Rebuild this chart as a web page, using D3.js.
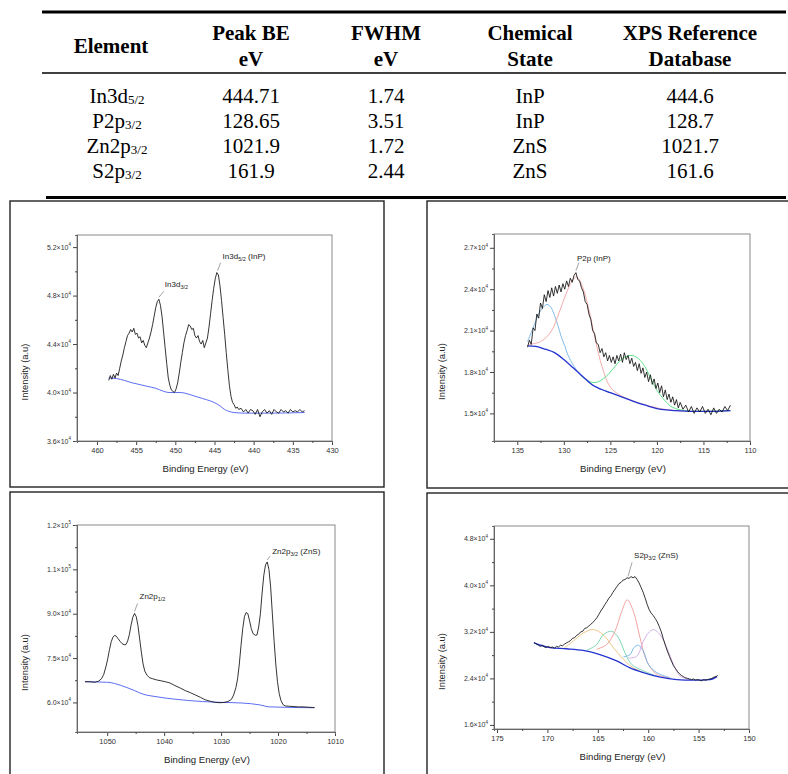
<!DOCTYPE html>
<html>
<head>
<meta charset="utf-8">
<script src="https://cdn.jsdelivr.net/npm/d3@7"></script>
<style>
body { margin: 0; background: #fff; }
svg { display: block; }
</style>
</head>
<body>
<div id="chart"></div>
<script>
// ---- table values ----
var headTop = ["Element", "Peak BE", "FWHM", "Chemical", "XPS Reference"];
var headBottom = ["", "eV", "eV", "State", "Database"];
var elementNames = ["In3d", "P2p", "Zn2p", "S2p"];
var elementSubs = ["5/2", "3/2", "3/2", "3/2"];
var peakBE = ["444.71", "128.65", "1021.9", "161.9"];
var fwhm = ["1.74", "3.51", "1.72", "2.44"];
var chemState = ["InP", "InP", "ZnS", "ZnS"];
var xpsRef = ["444.6", "128.7", "1021.7", "161.6"];

// ---- spectra, [binding energy eV, intensity in 1e4 counts] ----
var in3d = [[458.5,4.10],[458.3,4.14],[458.1,4.11],[457.9,4.15],[457.7,4.12],[457.5,4.16],[457.3,4.14],[457.1,4.20],
  [456.9,4.26],[456.7,4.31],[456.5,4.37],[456.3,4.42],[456.1,4.47],[455.9,4.49],[455.7,4.52],[455.5,4.50],[455.3,4.53],
  [455.1,4.48],[454.9,4.49],[454.7,4.45],[454.5,4.46],[454.3,4.41],[454.1,4.43],[453.9,4.39],[453.7,4.37],[453.5,4.41],
  [453.3,4.45],[453.1,4.50],[452.9,4.56],[452.7,4.63],[452.5,4.70],[452.3,4.75],[452.1,4.77],[451.9,4.72],[451.7,4.63],
  [451.5,4.50],[451.3,4.37],[451.1,4.24],[450.9,4.12],[450.7,4.06],[450.5,4.02],[450.3,4.01],[450.1,4.00],[449.9,4.03],
  [449.7,4.08],[449.5,4.16],[449.3,4.25],[449.1,4.33],[448.9,4.41],[448.7,4.47],[448.5,4.51],[448.3,4.56],[448.1,4.55],
  [447.9,4.52],[447.7,4.53],[447.5,4.47],[447.3,4.45],[447.1,4.47],[446.9,4.42],[446.7,4.40],[446.5,4.43],[446.3,4.37],
  [446.1,4.41],[445.9,4.45],[445.7,4.54],[445.5,4.65],[445.3,4.76],[445.1,4.86],[444.9,4.94],[444.7,4.99],[444.5,4.97],
  [444.3,4.88],[444.1,4.76],[443.9,4.62],[443.7,4.48],[443.5,4.33],[443.3,4.19],[443.1,4.06],[442.9,3.97],[442.7,3.92],
  [442.5,3.90],[442.3,3.87],[442.1,3.88],[441.9,3.86],[441.6,3.87],[441.3,3.84],[441.0,3.86],[440.7,3.83],[440.4,3.86],
  [440.1,3.85],[439.8,3.82],[439.5,3.86],[439.2,3.80],[438.9,3.84],[438.6,3.86],[438.3,3.83],[438.0,3.85],[437.7,3.82],
  [437.4,3.86],[437.1,3.84],[436.8,3.83],[436.5,3.86],[436.2,3.84],[435.9,3.85],[435.6,3.83],[435.3,3.86],[435.0,3.84],
  [434.7,3.85],[434.4,3.84],[434.1,3.86],[433.8,3.84],[433.5,3.85]];
var in3dBg = [[458.5,4.12],[457.5,4.115],[456.5,4.10],[455.5,4.08],[454.5,4.065],[453.5,4.05],[452.5,4.035],[451.5,4.01],
  [450.8,4.0],[450,4.0],[449.3,4.0],[448.5,3.99],[447.5,3.97],[446.5,3.95],[445.5,3.93],[444.8,3.91],[444.2,3.885],
  [443.7,3.86],[443.2,3.845],[442.5,3.835],[441,3.83],[438,3.83],[433.5,3.835]];

var p2p = [[133.9,1.98],[133.7,2.03],[133.5,2.00],[133.3,2.12],[133.1,2.10],[132.9,2.22],[132.7,2.19],[132.5,2.30],
  [132.3,2.26],[132.1,2.36],[131.9,2.31],[131.7,2.39],[131.5,2.34],[131.3,2.41],[131.1,2.35],[130.9,2.42],[130.7,2.37],
  [130.5,2.43],[130.3,2.38],[130.1,2.44],[129.9,2.40],[129.7,2.46],[129.5,2.42],[129.3,2.48],[129.1,2.45],[128.9,2.50],
  [128.7,2.52],[128.5,2.47],[128.3,2.46],[128.1,2.41],[127.9,2.38],[127.7,2.31],[127.5,2.29],[127.3,2.22],[127.1,2.18],
  [126.9,2.10],[126.7,2.08],[126.5,2.01],[126.3,2.00],[126.1,1.94],[125.9,1.97],[125.7,1.91],[125.5,1.94],[125.3,1.88],
  [125.1,1.92],[124.9,1.87],[124.7,1.91],[124.5,1.86],[124.3,1.92],[124.1,1.88],[123.9,1.93],[123.7,1.87],[123.5,1.94],
  [123.3,1.89],[123.1,1.92],[122.9,1.86],[122.7,1.90],[122.5,1.84],[122.3,1.87],[122.1,1.81],[121.9,1.86],[121.7,1.79],
  [121.5,1.83],[121.3,1.76],[121.1,1.80],[120.9,1.73],[120.7,1.78],[120.5,1.71],[120.3,1.75],[120.1,1.68],[119.9,1.72],
  [119.7,1.65],[119.5,1.70],[119.3,1.62],[119.1,1.67],[118.9,1.60],[118.7,1.64],[118.5,1.58],[118.3,1.62],[118.1,1.56],
  [117.9,1.60],[117.7,1.54],[117.5,1.58],[117.2,1.53],[116.9,1.56],[116.6,1.51],[116.3,1.55],[116.0,1.50],[115.7,1.54],
  [115.4,1.51],[115.1,1.55],[114.8,1.50],[114.5,1.53],[114.2,1.49],[113.9,1.54],[113.6,1.50],[113.3,1.53],[113.0,1.51],
  [112.7,1.55],[112.4,1.52],[112.1,1.56]];
var p2pBg = [[133.9,1.99],[133,1.985],[132,1.965],[131,1.94],[130,1.89],[129,1.83],[128,1.77],[127,1.71],[126,1.675],
  [125,1.65],[124,1.625],[123,1.60],[122,1.575],[121,1.555],[120,1.535],[119,1.525],[118,1.52],[116,1.515],[114,1.515],[112.1,1.52]];
var p2pFitA = [[133.9,2.02],[133.3,2.12],[132.7,2.22],[132.2,2.27],[131.8,2.29],[131.4,2.27],[131.0,2.21],[130.6,2.13],
  [130.3,2.06],[129.9,1.99],[129.6,1.93],[128.9,1.84],[128.2,1.78],[127.5,1.74],[126.8,1.70],[126.0,1.675],[125,1.65]];
var p2pFitB = [[133.75,2.0],[132.5,2.02],[131.4,2.09],[130.5,2.23],[129.8,2.36],[129.1,2.46],[128.64,2.49],[128.0,2.42],
  [127.3,2.25],[126.6,2.03],[125.9,1.84],[125.0,1.69],[123.9,1.63],[122.1,1.58],[120,1.54],[117.9,1.52],[114,1.515],[112.1,1.52]];
var p2pFitC = [[128.2,1.775],[127.6,1.745],[127.0,1.725],[126.5,1.725],[126.0,1.74],[125.5,1.765],[125.0,1.80],[124.5,1.84],
  [124.0,1.88],[123.5,1.905],[122.9,1.92],[122.4,1.915],[121.8,1.885],[121.3,1.84],[120.7,1.76],[120.1,1.68],[119.6,1.63],
  [119.1,1.59],[118.6,1.556],[118.0,1.535],[117.0,1.52],[115.5,1.515],[112.1,1.52]];

var zn2p = [[1053.9,6.70],[1053.0,6.70],[1052.2,6.68],[1051.5,6.72],[1051.0,6.80],[1050.6,6.95],[1050.2,7.22],[1049.9,7.48],
  [1049.6,7.78],[1049.3,8.05],[1049.0,8.20],[1048.7,8.27],[1048.4,8.24],[1048.1,8.16],[1047.7,8.06],[1047.4,7.99],
  [1047.0,7.95],[1046.7,7.96],[1046.4,8.08],[1046.1,8.30],[1045.8,8.62],[1045.5,8.88],[1045.2,9.01],[1044.9,8.90],
  [1044.6,8.60],[1044.3,8.15],[1044.0,7.70],[1043.7,7.30],[1043.4,7.06],[1043.0,6.92],[1042.6,6.84],[1042.0,6.80],
  [1041.3,6.76],[1040.5,6.73],[1039.8,6.70],[1039.0,6.66],[1038.1,6.57],[1037.2,6.49],[1036.3,6.40],[1035.4,6.33],
  [1034.5,6.25],[1033.6,6.17],[1032.8,6.09],[1031.9,6.04],[1031.0,6.00],[1030.2,5.99],[1029.5,6.00],[1028.8,6.03],
  [1028.2,6.10],[1027.8,6.25],[1027.4,6.50],[1027.1,6.80],[1026.8,7.30],[1026.5,7.93],[1026.2,8.50],[1025.9,8.90],
  [1025.6,9.04],[1025.3,9.00],[1025.0,8.76],[1024.7,8.50],[1024.4,8.33],[1024.0,8.27],[1023.7,8.28],[1023.4,8.55],
  [1023.1,9.00],[1022.8,9.70],[1022.5,10.30],[1022.2,10.65],[1021.9,10.75],[1021.6,10.50],[1021.3,9.90],[1021.0,9.00],
  [1020.7,8.10],[1020.4,7.30],[1020.1,6.70],[1019.8,6.30],[1019.5,6.07],[1019.1,5.92],[1018.7,5.88],[1018.0,5.87],
  [1017.2,5.86],[1016.4,5.85],[1015.6,5.85],[1014.8,5.84],[1014.0,5.83],[1013.6,5.83]];
var zn2pBg = [[1053.9,6.70],[1049.9,6.68],[1047.5,6.57],[1045.2,6.40],[1043.7,6.28],[1041.6,6.20],[1038.1,6.11],
  [1033.3,6.03],[1029.5,6.0],[1026.3,5.98],[1023.3,5.92],[1021.5,5.85],[1013.6,5.82]];

var s2p = [[171.3,3.02],[171.1,2.99],[170.9,2.97],[170.7,2.95],[170.5,2.97],[170.3,2.94],[170.1,2.93],[169.9,2.95],
  [169.7,2.93],[169.5,2.94],[169.3,2.92],[169.1,2.95],[168.9,2.94],[168.7,2.97],[168.5,2.96],[168.3,2.99],[168.1,3.01],
  [167.9,3.03],[167.7,3.05],[167.5,3.09],[167.3,3.10],[167.1,3.14],[166.9,3.16],[166.7,3.20],[166.5,3.21],[166.3,3.26],
  [166.1,3.27],[165.9,3.30],[165.7,3.33],[165.5,3.36],[165.3,3.40],[165.1,3.44],[164.9,3.50],[164.7,3.56],[164.5,3.61],
  [164.3,3.67],[164.1,3.72],[163.9,3.78],[163.7,3.82],[163.5,3.88],[163.3,3.93],[163.1,3.98],[162.9,4.03],[162.7,4.05],
  [162.5,4.09],[162.3,4.10],[162.1,4.13],[161.9,4.12],[161.7,4.15],[161.5,4.13],[161.3,4.15],[161.1,4.10],[160.9,4.04],
  [160.7,3.96],[160.5,3.88],[160.3,3.78],[160.1,3.67],[159.9,3.58],[159.7,3.52],[159.5,3.48],[159.3,3.43],[159.1,3.37],
  [158.9,3.29],[158.7,3.20],[158.5,3.08],[158.3,2.97],[158.1,2.87],[157.9,2.78],[157.7,2.70],[157.5,2.62],[157.3,2.57],
  [157.1,2.52],[156.9,2.48],[156.7,2.45],[156.5,2.43],[156.3,2.41],[156.1,2.40],[155.9,2.39],[155.7,2.38],[155.5,2.39],
  [155.3,2.37],[155.1,2.38],[154.9,2.37],[154.7,2.36],[154.5,2.38],[154.3,2.37],[154.1,2.38],[153.9,2.39],[153.7,2.40],
  [153.5,2.42],[153.3,2.43],[153.1,2.45]];
var s2pBg = [[171.35,3.01],[169.76,2.93],[168.1,2.91],[166.45,2.88],[164.79,2.81],[163.13,2.70],[161.8,2.58],[160.48,2.50],
  [158.8,2.42],[157.16,2.38],[155.5,2.37],[153.85,2.38],[153.18,2.43]];
var s2pFitA = [[168.43,2.91],[167.44,3.04],[166.45,3.18],[165.45,3.24],[164.46,3.15],[163.46,2.93],[162.47,2.73],[161.47,2.58],[160.48,2.50]];
var s2pFitB = [[166.11,2.88],[165.12,2.98],[164.46,3.15],[163.63,3.21],[162.96,3.10],[162.3,2.84],[161.64,2.64],[160.48,2.53],[159.15,2.44]];
var s2pFitC = [[165.12,2.90],[164.13,2.98],[163.3,3.21],[162.63,3.55],[162.07,3.75],[161.47,3.55],[160.81,3.10],[160.15,2.70],[159.15,2.47],[157.82,2.41]];
var s2pFitD = [[162.47,2.77],[161.8,2.81],[161.41,2.93],[160.97,2.97],[160.48,2.87],[159.98,2.64],[159.15,2.50],[157.82,2.41]];
var s2pFitE = [[161.97,2.75],[161.14,2.78],[160.48,3.04],[159.98,3.18],[159.48,3.24],[158.82,3.15],[158.16,2.93],[157.49,2.64],[156.83,2.44],[155.83,2.38]];

// ---- axis ticks ----
var in3dXTicks = [460, 455, 450, 445, 440, 435, 430];
var in3dYTicks = [3.6, 4.0, 4.4, 4.8, 5.2];
var in3dYLabels = ["3.6", "4.0", "4.4", "4.8", "5.2"];
var in3dYExp = ["4", "4", "4", "4", "4"];
var p2pXTicks = [135, 130, 125, 120, 115, 110];
var p2pYTicks = [1.5, 1.8, 2.1, 2.4, 2.7];
var p2pYLabels = ["1.5", "1.8", "2.1", "2.4", "2.7"];
var p2pYExp = ["4", "4", "4", "4", "4"];
var zn2pXTicks = [1050, 1040, 1030, 1020, 1010];
var zn2pYTicks = [6.0, 7.5, 9.0, 10.5, 12.0];
var zn2pYLabels = ["6.0", "7.5", "9.0", "1.1", "1.2"];
var zn2pYExp = ["4", "4", "4", "5", "5"];
var s2pXTicks = [175, 170, 165, 160, 155, 150];
var s2pYTicks = [1.6, 2.4, 3.2, 4.0, 4.8];
var s2pYLabels = ["1.6", "2.4", "3.2", "4.0", "4.8"];
var s2pYExp = ["4", "4", "4", "4", "4"];

var svg = d3.select("#chart").append("svg")
    .attr("width", 788)
    .attr("height", 774);
svg.append("rect").attr("width", 788).attr("height", 774).attr("fill", "#fff");

// ---- table ----
var colX = [117, 251, 386, 530, 690];
var tableL = 42, tableR = 786;
var serif = "'Liberation Serif', 'DejaVu Serif', serif";

svg.append("line").attr("x1", tableL).attr("x2", tableR).attr("y1", 12).attr("y2", 12)
    .attr("stroke", "#000").attr("stroke-width", 3);
svg.append("line").attr("x1", tableL).attr("x2", tableR).attr("y1", 73).attr("y2", 73)
    .attr("stroke", "#000").attr("stroke-width", 1.3);
svg.append("line").attr("x1", tableL + 4).attr("x2", tableR).attr("y1", 197.5).attr("y2", 197.5)
    .attr("stroke", "#000").attr("stroke-width", 3);

headTop.forEach(function(h, i) {
  svg.append("text")
      .attr("x", i == 0 ? colX[i] - 6 : colX[i]).attr("y", i == 0 ? 53 : 40)
      .attr("text-anchor", "middle")
      .attr("font-family", serif).attr("font-weight", "bold").attr("font-size", 21)
      .text(h);
  if (headBottom[i]) {
    svg.append("text")
        .attr("x", colX[i]).attr("y", 66)
        .attr("text-anchor", "middle")
        .attr("font-family", serif).attr("font-weight", "bold").attr("font-size", 21)
        .text(headBottom[i]);
  }
});

var rowY = [103, 128, 153, 178];
elementNames.forEach(function(el, r) {
  var t = svg.append("text")
      .attr("x", colX[0]).attr("y", rowY[r])
      .attr("text-anchor", "middle")
      .attr("font-family", serif).attr("font-size", 21);
  t.append("tspan").text(el);
  t.append("tspan").attr("font-size", 13).attr("dy", 1).text(elementSubs[r]);
  [peakBE, fwhm, chemState, xpsRef].forEach(function(col, c) {
    svg.append("text")
        .attr("x", colX[c + 1]).attr("y", rowY[r])
        .attr("text-anchor", "middle")
        .attr("font-family", serif).attr("font-size", 21)
        .text(col[r]);
  });
});

// ---- spectra panels ----
var sans = "'Liberation Sans', Arial, sans-serif";

function minorTicks(major) {
  var out = [];
  for (var i = 0; i < major.length - 1; i++) out.push((major[i] + major[i + 1]) / 2);
  return out;
}

function drawPanel(p) {
  var g = svg.append("g");
  g.append("rect")
      .attr("x", p.box[0]).attr("y", p.box[1])
      .attr("width", p.box[2] - p.box[0]).attr("height", p.box[3] - p.box[1])
      .attr("fill", "none").attr("stroke", "#222").attr("stroke-width", 1.4);

  var x = d3.scaleLinear().domain(p.xDomain).range([p.plot[0], p.plot[2]]);
  var y = d3.scaleLinear().domain(p.yDomain).range([p.plot[3], p.plot[1]]);

  g.append("rect")
      .attr("x", p.plot[0]).attr("y", p.plot[1])
      .attr("width", p.plot[2] - p.plot[0]).attr("height", p.plot[3] - p.plot[1])
      .attr("fill", "none").attr("stroke", "#8a8a8a").attr("stroke-width", 1);

  // x axis
  var xg = g.append("g").attr("transform", "translate(0," + p.plot[3] + ")");
  xg.call(d3.axisBottom(x).tickValues(p.xTicks).tickSize(4).tickSizeOuter(0).tickPadding(3)
      .tickFormat(d3.format("d")));
  xg.append("g").call(d3.axisBottom(x).tickValues(minorTicks(p.xTicks)).tickSize(2).tickFormat(""));
  // y axis
  var yg = g.append("g").attr("transform", "translate(" + p.plot[0] + ",0)");
  yg.call(d3.axisLeft(y).tickValues(p.yTicks).tickSize(4).tickSizeOuter(0).tickFormat(""));
  yg.append("g").call(d3.axisLeft(y).tickValues(minorTicks(p.yTicks)).tickSize(2).tickFormat(""));

  g.selectAll(".domain").attr("stroke", "#666");
  g.selectAll(".tick line").attr("stroke", "#444");
  xg.selectAll("text").attr("font-family", sans).attr("font-size", 7.5).attr("fill", "#333");

  p.yTicks.forEach(function(v, i) {
    var t = g.append("text")
        .attr("x", p.plot[0] - 6).attr("y", y(v) + 2.5)
        .attr("text-anchor", "end")
        .attr("font-family", sans).attr("font-size", 7).attr("fill", "#333");
    t.append("tspan").text(p.yLabels[i] + "\u00d710");
    t.append("tspan").attr("font-size", 4.5).attr("dy", -3.5).text(p.yExp[i]);
  });

  // axis titles
  g.append("text")
      .attr("x", (p.plot[0] + p.plot[2]) / 2 + 1).attr("y", p.plot[3] + 31)
      .attr("text-anchor", "middle")
      .attr("font-family", sans).attr("font-size", 9.6).attr("fill", "#222")
      .text("Binding Energy (eV)");
  g.append("text")
      .attr("transform", "translate(" + (p.box[0] + 18) + "," + ((p.plot[1] + p.plot[3]) / 2 + 34) + ") rotate(-90)")
      .attr("text-anchor", "middle")
      .attr("font-family", sans).attr("font-size", 9.4).attr("fill", "#222")
      .text("Intensity (a.u)");

  // lines
  p.fits.forEach(function(f) {
    g.append("path").datum(f.data)
        .attr("fill", "none").attr("stroke", f.color).attr("stroke-width", 0.9)
        .attr("d", d3.line().curve(d3.curveCatmullRom).x(d => x(d[0])).y(d => y(d[1])));
  });
  g.append("path").datum(p.bg)
      .attr("fill", "none").attr("stroke", p.bgColor).attr("stroke-width", p.bgWidth)
      .attr("d", d3.line().curve(d3.curveMonotoneX).x(d => x(d[0])).y(d => y(d[1])));
  g.append("path").datum(p.spectrum)
      .attr("fill", "none").attr("stroke", "#111").attr("stroke-width", 0.85)
      .attr("d", d3.line().x(d => x(d[0])).y(d => y(d[1])));

  // peak labels
  p.notes.forEach(function(n) {
    var px = x(n.at[0]), py = y(n.at[1]);
    g.append("line")
        .attr("x1", px).attr("y1", py - 2)
        .attr("x2", px + n.lead[0]).attr("y2", py + n.lead[1])
        .attr("stroke", "#666").attr("stroke-width", 0.6);
    var t = g.append("text")
        .attr("x", px + n.text[0]).attr("y", py + n.text[1])
        .attr("font-family", sans).attr("font-size", 8).attr("fill", "#222");
    t.append("tspan").text(n.label[0]);
    t.append("tspan").attr("font-size", 5.5).attr("dy", 2).text(n.label[1]);
    if (n.label[2]) t.append("tspan").attr("dy", -2).text(n.label[2]);
  });
}

drawPanel({
  box: [10, 201, 384, 487], plot: [77, 235, 332, 441],
  xDomain: [462.55, 430], yDomain: [3.6, 5.3],
  xTicks: in3dXTicks, yTicks: in3dYTicks, yLabels: in3dYLabels, yExp: in3dYExp,
  spectrum: in3d, bg: in3dBg, bgColor: "#4a5cf0", bgWidth: 0.9, fits: [],
  notes: [
    {at: [452.1, 4.77], lead: [5, -8], text: [6, -12], label: ["In3d", "3/2"]},
    {at: [444.6, 4.99], lead: [3, -10], text: [5, -14], label: ["In3d", "5/2", " (InP)"]}
  ]
});

drawPanel({
  box: [427, 201, 792, 488], plot: [494, 234, 750, 441],
  xDomain: [137.5, 110], yDomain: [1.3, 2.8],
  xTicks: p2pXTicks, yTicks: p2pYTicks, yLabels: p2pYLabels, yExp: p2pYExp,
  spectrum: p2p, bg: p2pBg, bgColor: "#2433d0", bgWidth: 1.3,
  fits: [
    {data: p2pFitA, color: "#74b6e6"},
    {data: p2pFitB, color: "#f2a1a1"},
    {data: p2pFitC, color: "#4ee07a"}
  ],
  notes: [
    {at: [128.7, 2.52], lead: [3, -10], text: [1, -12], label: ["P2p (InP)", ""]}
  ]
});

drawPanel({
  box: [10, 492, 384, 790], plot: [77, 525, 335, 732],
  xDomain: [1055.3, 1010], yDomain: [5.0, 12.0],
  xTicks: zn2pXTicks, yTicks: zn2pYTicks, yLabels: zn2pYLabels, yExp: zn2pYExp,
  spectrum: zn2p, bg: zn2pBg, bgColor: "#4a5cf0", bgWidth: 0.9, fits: [],
  notes: [
    {at: [1045.2, 9.01], lead: [3, -10], text: [5, -14], label: ["Zn2p", "1/2"]},
    {at: [1021.9, 10.75], lead: [3, -6], text: [5, -8], label: ["Zn2p", "3/2", " (ZnS)"]}
  ]
});

drawPanel({
  box: [427, 493, 792, 790], plot: [494, 526, 749, 729],
  xDomain: [175.3, 150], yDomain: [1.53, 5.02],
  xTicks: s2pXTicks, yTicks: s2pYTicks, yLabels: s2pYLabels, yExp: s2pYExp,
  spectrum: s2p, bg: s2pBg, bgColor: "#2433d0", bgWidth: 1.3,
  fits: [
    {data: s2pFitA, color: "#e9c27a"},
    {data: s2pFitB, color: "#6fd3a8"},
    {data: s2pFitC, color: "#f29a9a"},
    {data: s2pFitD, color: "#6fb4e6"},
    {data: s2pFitE, color: "#cfa6e6"}
  ],
  notes: [
    {at: [162.0, 4.12], lead: [4, -16], text: [6, -20], label: ["S2p", "3/2", " (ZnS)"]}
  ]
});
</script>
</body>
</html>
